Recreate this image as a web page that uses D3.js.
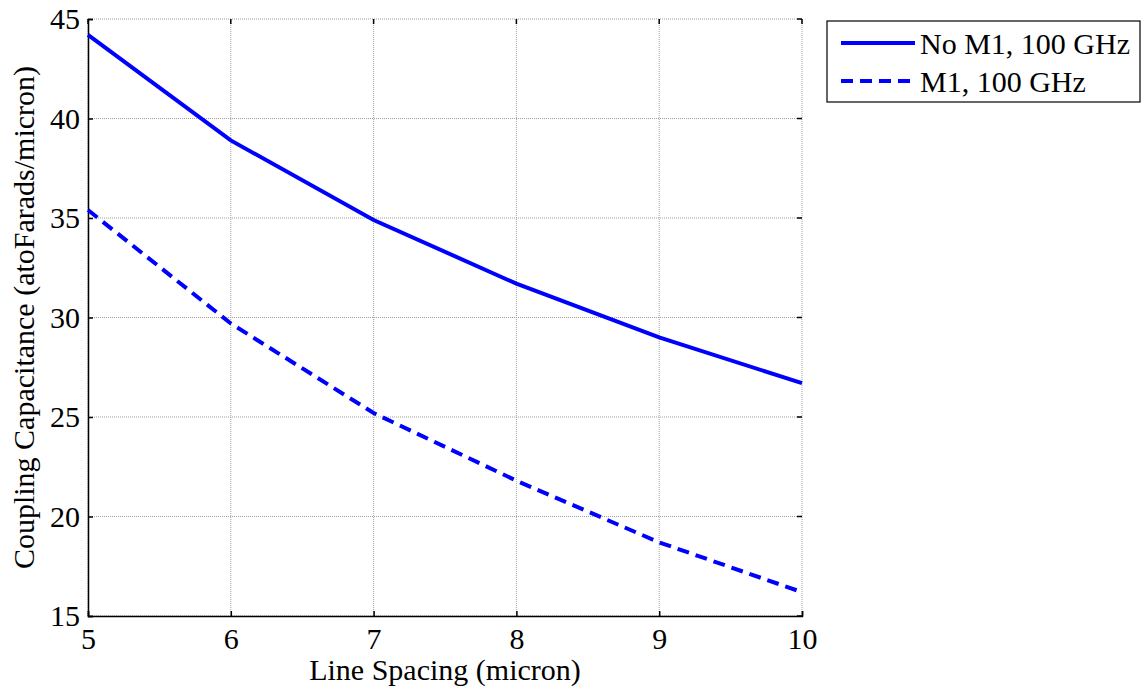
<!DOCTYPE html>
<html>
<head>
<meta charset="utf-8">
<script src="https://cdn.jsdelivr.net/npm/d3@7/dist/d3.min.js"></script>
<style>
  html, body { margin: 0; padding: 0; background: #fff; }
  svg { display: block; font-family: "Liberation Serif", "Times New Roman", serif; }
</style>
</head>
<body>
<svg id="chart" width="1148" height="693"></svg>
<script>
// Line spacing (micron)
const spacing = [5, 6, 7, 8, 9, 10];
// Coupling capacitance (aF/micron), no M1 ground plane
const noM1 = [44.2, 38.9, 34.9, 31.7, 29.0, 26.7];
// Coupling capacitance (aF/micron), with M1
const withM1 = [35.4, 29.7, 25.2, 21.8, 18.7, 16.2];

const xTicks = [5, 6, 7, 8, 9, 10];
const yTicks = [15, 20, 25, 30, 35, 40, 45];
const seriesNames = ["No M1, 100 GHz", "M1, 100 GHz"];

(function () {
const svg = d3.select("#chart");
const mL = 88, mR = 802, mT = 19, mB = 616;
const fs = 30;

const x = d3.scaleLinear().domain([5, 10]).range([mL, mR]);
const y = d3.scaleLinear().domain([15, 45]).range([mB, mT]);

// grid
const grid = svg.append("g");
grid.selectAll("line.gx").data(xTicks).join("line")
  .attr("x1", d => x(d)).attr("x2", d => x(d))
  .attr("y1", mT).attr("y2", mB)
  .attr("stroke", "#a0a0a0").attr("stroke-width", 1).attr("stroke-dasharray", "1,1");
grid.selectAll("line.gy").data(yTicks).join("line")
  .attr("x1", mL).attr("x2", mR)
  .attr("y1", d => y(d)).attr("y2", d => y(d))
  .attr("stroke", "#a0a0a0").attr("stroke-width", 1).attr("stroke-dasharray", "1,1");

// axes
const xAxis = d3.axisBottom(x).tickValues(xTicks).tickSize(-5).tickPadding(12).tickFormat(d3.format("d"));
const yAxis = d3.axisLeft(y).tickValues(yTicks).tickSize(-5).tickPadding(8).tickFormat(d3.format("d"));

const gx = svg.append("g").attr("transform", `translate(0,${mB})`).call(xAxis);
const gy = svg.append("g").attr("transform", `translate(${mL},0)`).call(yAxis);
[gx, gy].forEach(g => {
  g.select(".domain").attr("stroke", "#000").attr("stroke-width", 1.5);
  g.selectAll(".tick line").attr("stroke", "#000").attr("stroke-width", 1.5);
  g.selectAll(".tick text").attr("font-size", fs).attr("fill", "#000")
    .attr("font-family", "Liberation Serif, Times New Roman, serif");
});
gx.selectAll(".tick text").attr("dy", "0.71em");

// top/right ticks
svg.append("g").selectAll("line").data(xTicks).join("line")
  .attr("x1", d => x(d)).attr("x2", d => x(d)).attr("y1", mT).attr("y2", mT + 5)
  .attr("stroke", "#000").attr("stroke-width", 1.5);
svg.append("g").selectAll("line").data(yTicks).join("line")
  .attr("x1", mR - 5).attr("x2", mR).attr("y1", d => y(d)).attr("y2", d => y(d))
  .attr("stroke", "#000").attr("stroke-width", 1.5);

// series lines
const line = d3.line().x((d, i) => x(spacing[i])).y(d => y(d));
const series = [
  { values: noM1, dash: null },
  { values: withM1, dash: "12,7" }
];
svg.append("g").selectAll("path").data(series).join("path")
  .attr("d", d => line(d.values))
  .attr("fill", "none").attr("stroke", "#0000ff").attr("stroke-width", 4)
  .attr("stroke-dasharray", d => d.dash);

// axis titles
svg.append("text").attr("x", (mL + mR) / 2).attr("y", 680)
  .attr("text-anchor", "middle").attr("font-size", fs).text("Line Spacing (micron)");
svg.append("text").attr("transform", `translate(34,${(mT + mB) / 2}) rotate(-90)`)
  .attr("text-anchor", "middle").attr("font-size", fs).text("Coupling Capacitance (atoFarads/micron)");

// legend
const lg = svg.append("g");
lg.append("rect").attr("x", 827).attr("y", 21).attr("width", 313).attr("height", 81)
  .attr("fill", "#fff").attr("stroke", "#000").attr("stroke-width", 1.2);
const rows = [43, 81];
series.forEach((s, i) => {
  lg.append("line").attr("x1", 841).attr("x2", 915).attr("y1", rows[i]).attr("y2", rows[i])
    .attr("stroke", "#0000ff").attr("stroke-width", 4).attr("stroke-dasharray", s.dash);
  lg.append("text").attr("x", 920).attr("y", rows[i]).attr("dy", "0.35em")
    .attr("font-size", fs).text(seriesNames[i]);
});
})();
</script>
</body>
</html>
